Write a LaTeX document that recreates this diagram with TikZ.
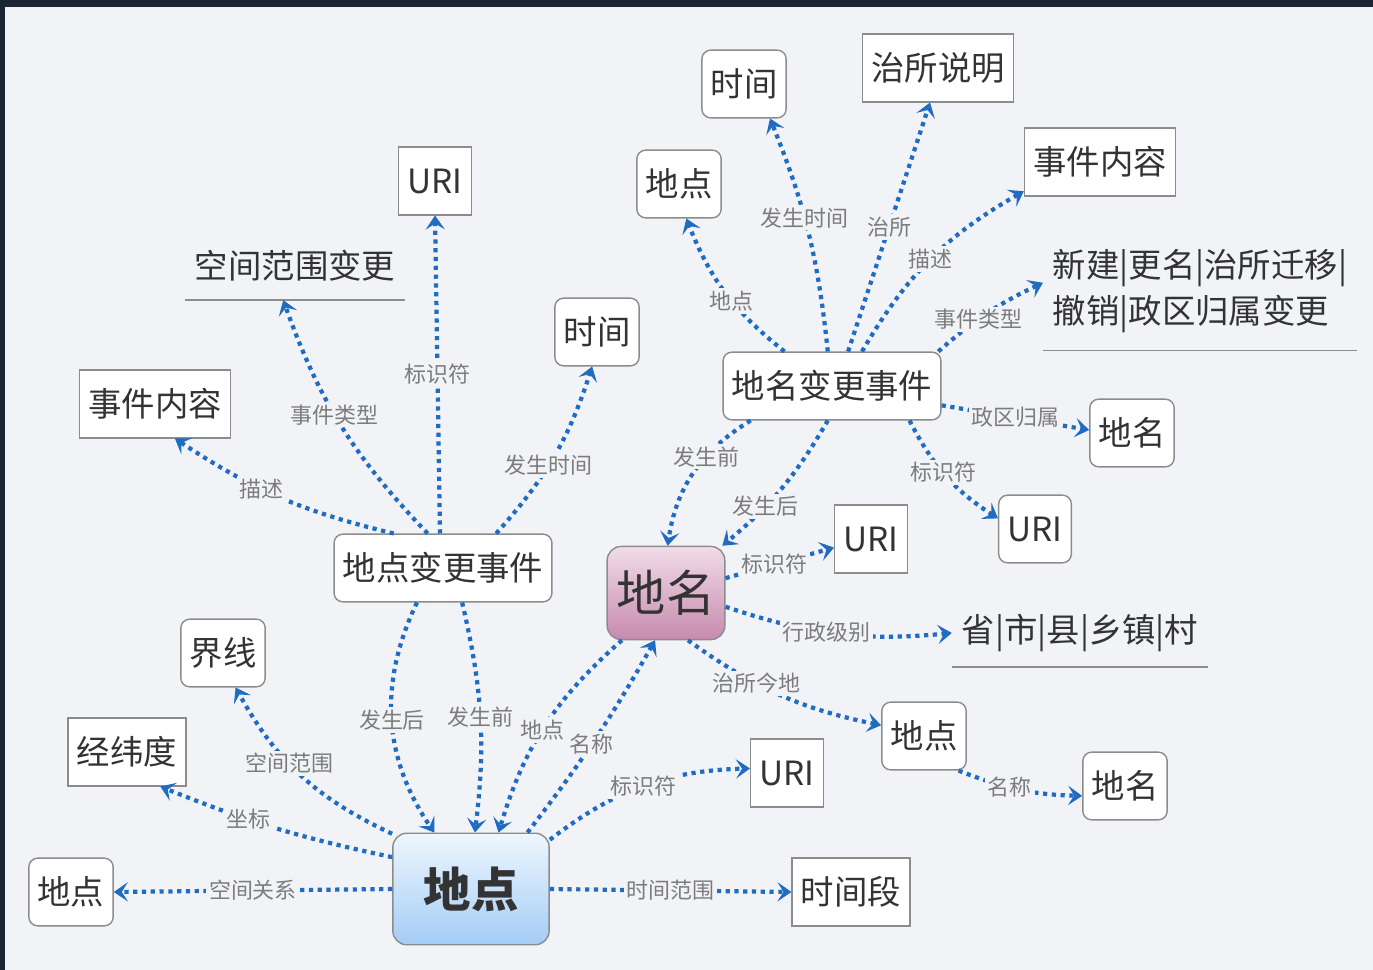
\documentclass[tikz,border=0pt]{standalone}
\usepackage{fontspec}
\setmainfont{Noto Sans CJK SC}
\usetikzlibrary{arrows.meta}

\definecolor{framecol}{HTML}{1B2535}
\definecolor{bgcol}{HTML}{F2F3F7}
\definecolor{linkblue}{HTML}{1F6CC0}
\definecolor{boxline}{HTML}{8C8C8C}
\definecolor{txtcol}{HTML}{333333}
\definecolor{lblcol}{HTML}{7C7C7C}
\definecolor{blueA}{HTML}{EEF6FD}
\definecolor{blueB}{HTML}{A4CDF6}
\definecolor{pinkA}{HTML}{F1DCE8}
\definecolor{pinkB}{HTML}{C68AAE}

\begin{document}
\begin{tikzpicture}[x=0.02cm, y=0.02cm,
    link/.style={draw=linkblue, line width=2.4pt, dash pattern=on 2.4pt off 2.6pt,
        -{Stealth[length=8pt, width=11pt, inset=3.5pt, line width=0.6pt]}},
    lbl/.style={fill=bgcol, inner sep=1.5pt, text=lblcol, font=\fontsize{12.5pt}{14pt}\selectfont},
    leaf/.style={draw=boxline, line width=0.8pt, fill=white, rounded corners=5pt,
        minimum height=38.5pt, inner xsep=5pt, text=txtcol, font=\fontsize{19pt}{22pt}\selectfont},
    sqleaf/.style={leaf, sharp corners},
    uline/.style={minimum height=38.5pt, inner xsep=5.5pt, text=txtcol, font=\fontsize{19pt}{22pt}\selectfont},
    core/.style={draw=boxline, line width=0.8pt, rounded corners=8pt, text=txtcol},
]
    \useasboundingbox (0,0) rectangle (1373,-970);
    \fill[framecol] (0,0) rectangle (1373,-970);
    \fill[bgcol] (5,-7) rectangle (1373,-970);

    % centre nodes
    \node[core, top color=blueA, bottom color=blueB, minimum width=89pt, minimum height=63.5pt,
        font=\fontsize{27pt}{30pt}\selectfont\bfseries] (dd) at (471,-889) {地点};
    \node[core, top color=pinkA, bottom color=pinkB, minimum width=67pt, minimum height=53pt,
        font=\fontsize{28pt}{30pt}\selectfont] (dm) at (666,-593) {地名};
    \node[leaf] (ddbg) at (443,-568) {地点变更事件};
    \node[leaf] (dmbg) at (832,-386) {地名变更事件};

    % around ddbg
    \node[sqleaf] (sjnr1) at (155,-404) {事件内容};
    \node[uline] (kjfwbg) at (295,-266) {空间范围变更};
    \node[sqleaf] (uri1) at (435,-181) {URI};
    \node[leaf] (sj1) at (597,-332) {时间};

    % around dd
    \node[leaf] (jx) at (223,-653) {界线};
    \node[sqleaf] (jwd) at (127,-752) {经纬度};
    \node[leaf] (dd2) at (71,-892) {地点};
    \node[sqleaf] (sjd) at (851,-892) {时间段};
    \node[sqleaf] (uri2) at (787,-773) {URI};

    % around dm
    \node[sqleaf] (uri3) at (871,-539) {URI};
    \node[uline] (xzjb) at (1080,-633) {省|市|县|乡镇|村};
    \node[leaf] (dd3) at (924,-736) {地点};
    \node[leaf] (dm2) at (1125,-786) {地名};

    % around dmbg
    \node[leaf] (dd4) at (679,-184) {地点};
    \node[leaf] (sj2) at (744,-84) {时间};
    \node[sqleaf] (zssm) at (938,-68) {治所说明};
    \node[sqleaf] (sjnr2) at (1100,-162) {事件内容};
    \node[uline, align=left, minimum width=177.5pt, minimum height=67.5pt,
        font=\fontsize{19pt}{26.5pt}\selectfont] (lx) at (1200,-291) {新建|更名|治所迁移|\\撤销|政区归属变更};
    \node[leaf] (dm3) at (1132,-433) {地名};
    \node[leaf] (uri4) at (1035,-529) {URI};

    \draw[boxline, line width=0.8pt] (kjfwbg.south west) -- (kjfwbg.south east);
    \draw[boxline, line width=0.8pt] (xzjb.south west) -- (xzjb.south east);
    \draw[boxline, line width=0.8pt] (lx.south west) -- (lx.south east);

    % dd
    \draw[link] (dd.west) -- node[lbl] {空间关系} (dd2.east);
    \draw[link] (dd.158) to[bend left=5] node[lbl, pos=0.62] {坐标} (jwd.-46);
    \draw[link] (dd.145) to[bend left=18] node[lbl, pos=0.58] {空间范围} (jx.-70);
    \draw[link] (dd.east) -- node[lbl] {时间范围} (sjd.west);
    \draw[link] (dd.32) to[bend left=18] node[lbl] {标识符} (uri2.173);
    \draw[link] (dd.45) to[bend right=4] node[lbl, pos=0.47] {名称} (dm.257);
    \draw[link] (dm.227) to[bend right=16] node[lbl, pos=0.52] {地点} (dd.64);

    % ddbg
    \draw[link] (ddbg.233) to[bend right=30] node[lbl] {发生后} (dd.123);
    \draw[link] (ddbg.-61) to[bend left=10] node[lbl] {发生前} (dd.86);
    \draw[link] (ddbg.145) to[bend left=10] node[lbl, pos=0.59] {描述} (sjnr1.-60);
    \draw[link] (ddbg.114) to[bend left=12] node[lbl, pos=0.55] {事件类型} (kjfwbg.251);
    \draw[link] (ddbg.95) -- node[lbl] {标识符} (uri1.south);
    \draw[link] (ddbg.33) to[bend right=12] node[lbl, pos=0.44] {发生时间} (sj1.262);

    % dmbg
    \draw[link] (dmbg.144) to[bend left=15] node[lbl, pos=0.43] {地点} (dd4.-78);
    \draw[link] (dmbg.97) to[bend right=8] node[lbl, pos=0.57] {发生时间} (sj2.-53);
    \draw[link] (dmbg.65) -- node[lbl] {治所} (zssm.257);
    \draw[link] (dmbg.49) to[bend left=15] node[lbl, pos=0.5] {描述} (sjnr2.201);
    \draw[link] (dmbg.18) to[bend left=8] node[lbl, pos=0.4] {事件类型} (lx.177);
    \draw[link] (dmbg.-10) -- node[lbl] {政区归属} (dm3.176);
    \draw[link] (dmbg.-24) to[bend right=15] node[lbl, pos=0.46] {标识符} (uri4.164);
    \draw[link] (dmbg.203) to[bend right=25] node[lbl, pos=0.36] {发生前} (dm.88);
    \draw[link] (dmbg.263) to[bend left=10] node[lbl, pos=0.66] {发生后} (dm.40);

    % dm
    \draw[link] (dm.14) -- node[lbl, pos=0.45] {标识符} (uri3.193);
    \draw[link] (dm.-13) to[bend right=12] node[lbl, pos=0.45] {行政级别} (xzjb.west);
    \draw[link] (dm.-65) to[bend right=12] node[lbl, pos=0.37] {治所今地} (dd3.166);
    \draw[link] (dd3.-45) to[bend right=10] node[lbl, pos=0.42] {名称} (dm2.193);
\end{tikzpicture}
\end{document}
